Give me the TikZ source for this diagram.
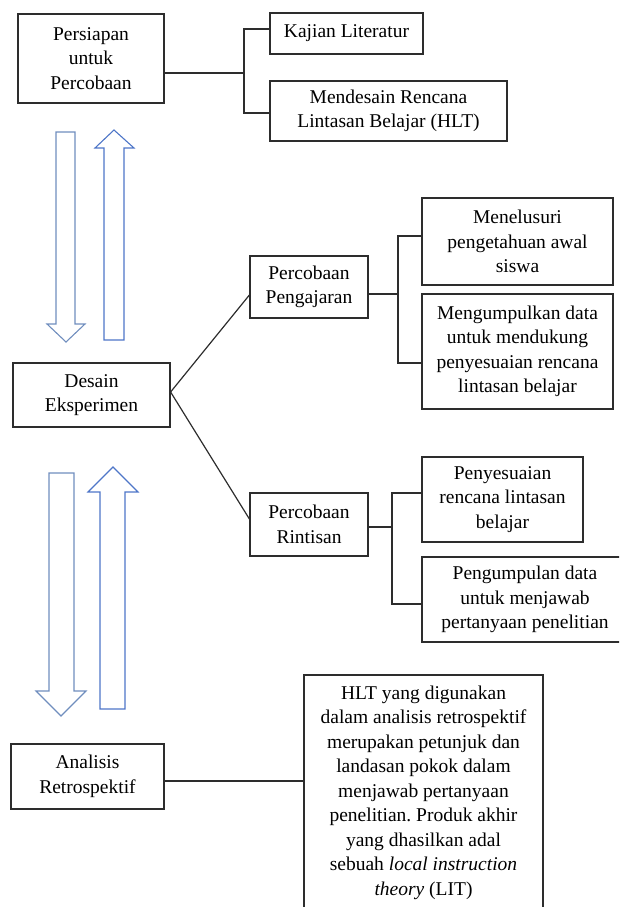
\documentclass[tikz,border=0pt]{standalone}
\usepackage{fontspec}
\setmainfont{Liberation Serif}
\definecolor{boxc}{RGB}{45,45,45}
\definecolor{downc}{RGB}{112,142,190}
\definecolor{upc}{RGB}{78,118,200}
\begin{document}
\frenchspacing
\begin{tikzpicture}[x=1pt,y=-1pt,
  box/.style={draw=boxc, line width=1.2pt, align=center, inner sep=0pt, fill=white,
    font=\fontsize{19.5}{24.5}\selectfont, text=black},
  link/.style={draw=boxc, line width=1.2pt},
  downarr/.style={draw=downc, line width=1.1pt, fill=white, line join=miter},
  uparr/.style={draw=upc, line width=1.1pt, fill=white, line join=miter}]
\useasboundingbox (0,0) rectangle (619,907);
\begin{scope}
\clip (0,0) rectangle (619,907);
% nodes
\node[box, minimum width=146pt, minimum height=89pt] (persiapan) at (91,58.5) {Persiapan\\untuk\\Percobaan};
\node[box, minimum width=153pt, minimum height=41pt] (kajian) at (346.5,33.5) {Kajian Literatur};
\node[box, minimum width=237pt, minimum height=60pt] (mendesain) at (388.5,111) {Mendesain Rencana\\Lintasan Belajar (HLT)};
\node[box, minimum width=157pt, minimum height=64pt] (desain) at (91.5,395) {Desain\\Eksperimen};
\node[box, minimum width=118pt, minimum height=62pt] (pengajaran) at (309,287) {Percobaan\\Pengajaran};
\node[box, minimum width=191pt, minimum height=87pt] (menelusuri) at (517.5,241.5) {Menelusuri\\pengetahuan awal\\siswa};
\node[box, minimum width=191pt, minimum height=115pt] (mengumpulkan) at (517.5,351.5) {Mengumpulkan data\\untuk mendukung\\penyesuaian rencana\\lintasan belajar};
\node[box, minimum width=118pt, minimum height=63pt] (rintisan) at (309,524.5) {Percobaan\\Rintisan};
\node[box, minimum width=161pt, minimum height=85pt] (penyesuaian) at (502.5,499.5) {Penyesuaian\\rencana lintasan\\belajar};
\node[box, minimum width=206pt, minimum height=85pt] (pengumpulan) at (525,599.5) {Pengumpulan data\\untuk menjawab\\pertanyaan penelitian};
\node[box, minimum width=153pt, minimum height=65pt] (analisis) at (87.5,776.5) {Analisis\\Retrospektif};
\node[box, minimum width=239pt, minimum height=235pt] (hlt) at (423.5,792.5) {HLT yang digunakan\\dalam analisis retrospektif\\merupakan petunjuk dan\\landasan pokok dalam\\menjawab pertanyaan\\penelitian. Produk akhir\\yang dhasilkan adal\\sebuah \textit{local instruction}\\\textit{theory} (LIT)};
% junction coordinates
\coordinate (jA) at (244,73);
\coordinate (jAt) at (244,29);
\coordinate (jAb) at (244,113);
\coordinate (jB) at (398,294);
\coordinate (jBt) at (398,236);
\coordinate (jBb) at (398,363);
\coordinate (jC) at (392,527);
\coordinate (jCt) at (392,493);
\coordinate (jCb) at (392,604);
\coordinate (dOut) at (170,392);
\coordinate (pIn) at (250,295);
\coordinate (rIn) at (250,519);
\coordinate (aLine) at (164,781);
% connectors
\draw[link] (persiapan.east |- jA) -- (jA);
\draw[link] (kajian.west |- jAt) -- (jAt) -- (jAb) -- (mendesain.west |- jAb);
\draw[link] (pengajaran.east |- jB) -- (jB);
\draw[link] (menelusuri.west |- jBt) -- (jBt) -- (jBb) -- (mengumpulkan.west |- jBb);
\draw[link] (rintisan.east |- jC) -- (jC);
\draw[link] (penyesuaian.west |- jCt) -- (jCt) -- (jCb) -- (pengumpulan.west |- jCb);
\draw[link] (desain.east |- dOut) -- (pengajaran.west |- pIn);
\draw[link] (desain.east |- dOut) -- (rintisan.west |- rIn);
\draw[link] (analisis.east |- aLine) -- (hlt.west |- aLine);
% block arrows
\draw[downarr] (56,132) -- (75,132) -- (75,324) -- (85,324) -- (66,342) -- (47,324) -- (56,324) -- cycle;
\draw[uparr] (104,340) -- (124,340) -- (124,148) -- (134,148) -- (114,130) -- (95,148) -- (104,148) -- cycle;
\draw[downarr] (49,473) -- (74,473) -- (74,691) -- (86,691) -- (61,716) -- (36,691) -- (49,691) -- cycle;
\draw[uparr] (100,709) -- (125,709) -- (125,492) -- (138,492) -- (113,467) -- (88,492) -- (100,492) -- cycle;
\end{scope}
\end{tikzpicture}
\end{document}
